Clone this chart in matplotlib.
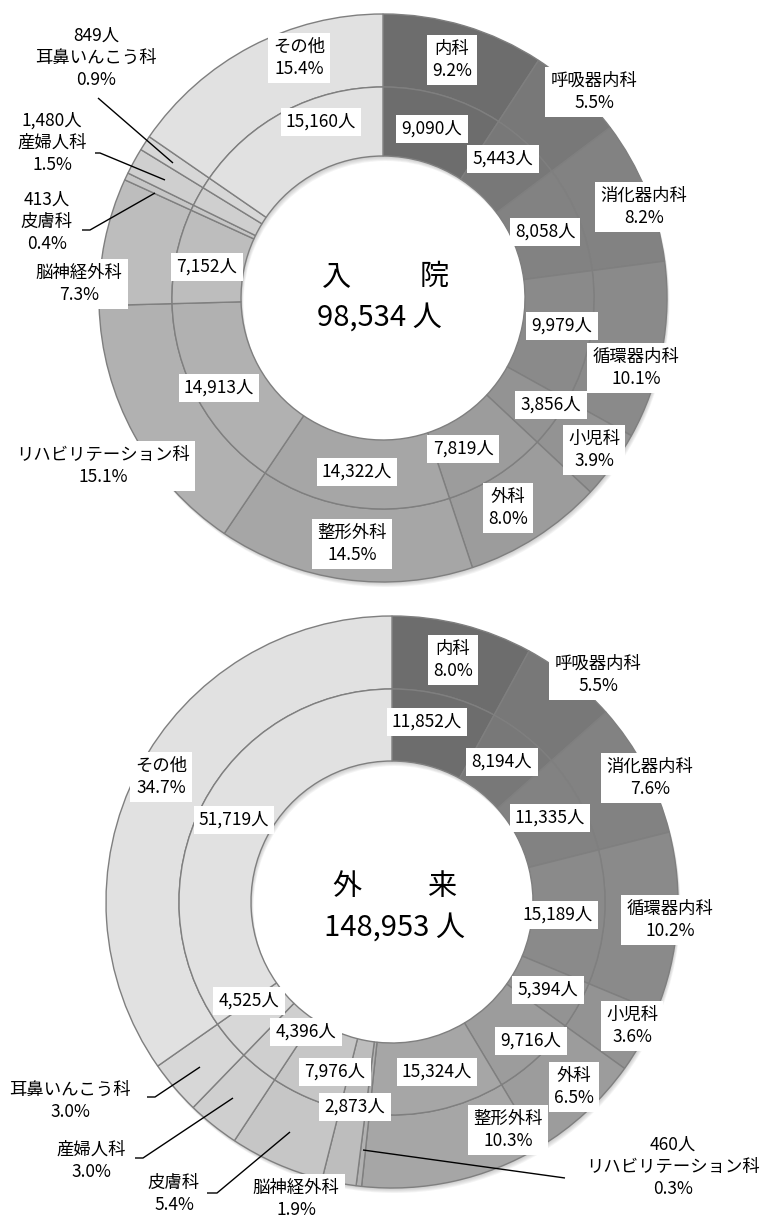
import matplotlib
matplotlib.use('Agg')
import matplotlib.pyplot as plt

plt.rcParams['font.family'] = ['Noto Sans CJK JP', 'DejaVu Sans']

# ---------------- data ----------------
departments = ['内科', '呼吸器内科', '消化器内科', '循環器内科', '小児科', '外科', '整形外科',
               'リハビリテーション科', '脳神経外科', '皮膚科', '産婦人科', '耳鼻いんこう科', 'その他']
inpatient = [9090, 5443, 8058, 9979, 3856, 7819, 14322, 14913, 7152, 413, 1480, 849, 15160]
inpatient_pct = [9.2, 5.5, 8.2, 10.1, 3.9, 8.0, 14.5, 15.1, 7.3, 0.4, 1.5, 0.9, 15.4]
outpatient = [11852, 8194, 11335, 15189, 5394, 9716, 15324, 460, 2873, 7976, 4396, 4525, 51719]
outpatient_pct = [8.0, 5.5, 7.6, 10.2, 3.6, 6.5, 10.3, 0.3, 1.9, 5.4, 3.0, 3.0, 34.7]
titles = [('入', '院'), ('外', '来')]

colors = ['#6d6d6d', '#787878', '#828282', '#8a8a8a', '#939393', '#9c9c9c', '#a6a6a6',
          '#b1b1b1', '#bdbdbd', '#c6c6c6', '#cfcfcf', '#d7d7d7', '#e1e1e1']

# ---------------- layout (pixel coordinates) ----------------
W, H = 764, 1217
fig = plt.figure(figsize=(W / 100, H / 100), dpi=100)
ax = fig.add_axes([0, 0, 1, 1])


def Y(py):
    return H - py


charts = [
    dict(values=inpatient, pct=inpatient_pct, center=(383, 298), R=284, Rm=211, Ri=142,
         title=titles[0], t1=(337, 277), t2=(434, 277), tot=(379, 318),
         outer=[(452, 60), (594, 92), (644, 207), (636, 368), (594, 450), (508, 508),
                (352, 544), (103, 466), (79, 284), (47, 222), (52, 143), (96, 58), (299, 58)],
         inner=[(432, 129), (503, 159), (545, 232), (562, 326), (551, 405), (463, 449),
                (357, 472), (219, 388), (207, 267), None, None, None, (321, 122)],
         leaders={9: [(82, 230), (90, 230), (155, 193)],
                  10: [(95, 153), (100, 153), (165, 180)],
                  11: [(98, 98), (173, 163)]}),
    dict(values=outpatient, pct=outpatient_pct, center=(392, 902), R=286, Rm=213, Ri=141,
         title=titles[1], t1=(347, 887), t2=(442, 887), tot=(394, 928),
         outer=[(453, 660), (598, 675), (650, 778), (670, 920), (632, 1026), (574, 1087),
                (508, 1130), (673, 1167), (296, 1199), (174, 1194), (91, 1161), (70, 1101),
                (161, 777)],
         inner=[(427, 722), (502, 762), (550, 818), (558, 915), (548, 990), (531, 1041),
                (437, 1072), None, (355, 1107), (335, 1072), (306, 1032), (249, 1001),
                (234, 820)],
         leaders={7: [(565, 1178), (363, 1150)],
                  9: [(207, 1193), (217, 1193), (290, 1132)],
                  10: [(135, 1158), (143, 1158), (233, 1098)],
                  11: [(147, 1097), (155, 1097), (200, 1067)]}),
]

FS = 12.5
box = dict(boxstyle='square,pad=0.3', fc='white', ec='none')

for ch in charts:
    cx, cy = ch['center']
    R, Rm, Ri = ch['R'], ch['Rm'], ch['Ri']
    vals = ch['values']
    total = sum(vals)

    # soft drop shadow
    for d in [5, 4, 3, 2, 1]:
        ax.pie([1], radius=R, center=(cx + d * 0.5, Y(cy) - d), colors=['#606060'],
               wedgeprops=dict(width=R - Ri, linewidth=0, alpha=0.07), frame=True)

    ax.pie(vals, radius=R, center=(cx, Y(cy)), startangle=90, counterclock=False,
           colors=colors, wedgeprops=dict(width=R - Rm, edgecolor='#7f7f7f', linewidth=1.0),
           frame=True)
    ax.pie(vals, radius=Rm, center=(cx, Y(cy)), startangle=90, counterclock=False,
           colors=colors, wedgeprops=dict(width=Rm - Ri, edgecolor='#7f7f7f', linewidth=1.0),
           frame=True)

    # outer labels (name + percent, with count for the tiny slices)
    for i, name in enumerate(departments):
        x, y = ch['outer'][i]
        if ch['inner'][i] is None:
            s = f"{vals[i]:,}人\n{name}\n{ch['pct'][i]:.1f}%"
        else:
            s = f"{name}\n{ch['pct'][i]:.1f}%"
        ax.text(x, Y(y), s, ha='center', va='center', fontsize=FS, linespacing=1.3,
                bbox=box, zorder=5)
        p = ch['inner'][i]
        if p is not None:
            ax.text(p[0], Y(p[1]), f"{vals[i]:,}人", ha='center', va='center',
                    fontsize=FS, bbox=box, zorder=5)

    for i, pts in ch['leaders'].items():
        ax.plot([q[0] for q in pts], [Y(q[1]) for q in pts], color='black', lw=1.0,
                zorder=4, solid_capstyle='butt')

    # centre title
    ax.text(ch['t1'][0], Y(ch['t1'][1]), ch['title'][0], ha='center', va='center',
            fontsize=21, zorder=5)
    ax.text(ch['t2'][0], Y(ch['t2'][1]), ch['title'][1], ha='center', va='center',
            fontsize=21, zorder=5)
    ax.text(ch['tot'][0], Y(ch['tot'][1]), f"{total:,} 人", ha='center', va='center',
            fontsize=21, zorder=5)

ax.set_xlim(0, W)
ax.set_ylim(0, H)
ax.set_aspect('auto')
ax.axis('off')

fig.savefig('out.png', dpi=100, facecolor='white')
